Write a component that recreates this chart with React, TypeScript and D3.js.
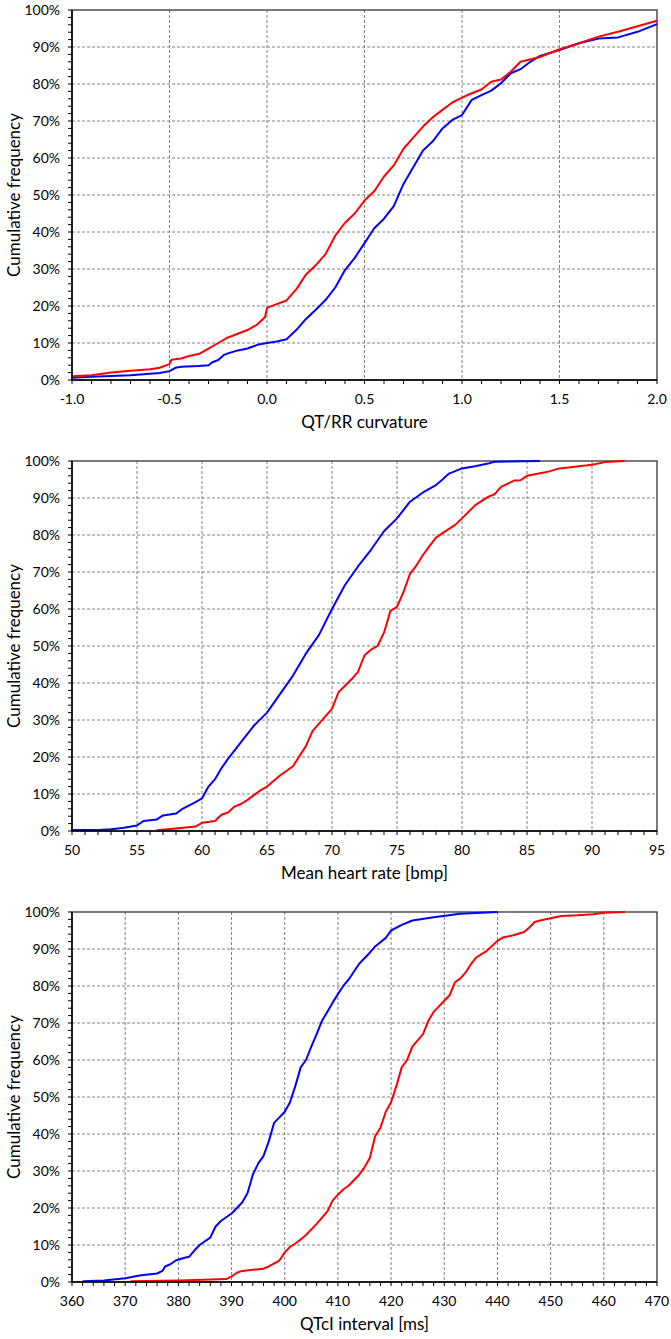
import { line, range, scaleLinear } from 'd3'

// QT/RR curvature (panel 1)
const curvatureBlueX = [-1.0, -0.9, -0.8, -0.7, -0.6, -0.55, -0.5, -0.47, -0.44, -0.35, -0.3, -0.28, -0.25, -0.22, -0.2, -0.15, -0.1, -0.05, 0.0, 0.05, 0.1, 0.15, 0.2, 0.25, 0.3, 0.35, 0.4, 0.45, 0.5, 0.55, 0.6, 0.65, 0.7, 0.75, 0.8, 0.85, 0.9, 0.95, 1.0, 1.05, 1.1, 1.15, 1.2, 1.25, 1.3, 1.35, 1.4, 1.5, 1.6, 1.7, 1.8, 1.9, 2.0]
const curvatureBlueY = [0.6, 0.9, 1.1, 1.3, 1.7, 1.9, 2.4, 3.3, 3.6, 3.8, 4.0, 4.8, 5.4, 6.8, 7.2, 8.0, 8.5, 9.5, 10.0, 10.4, 11.0, 13.5, 16.5, 19, 21.6, 25, 29.7, 33, 37, 41, 43.6, 47, 53, 57.5, 62, 64.5, 68, 70.3, 71.6, 75.7, 77, 78.2, 80.2, 82.9, 84, 86, 87.6, 89.2, 91, 92.3, 92.6, 94.1, 96.2]
const curvatureRedX = [-1.0, -0.9, -0.8, -0.7, -0.6, -0.55, -0.5, -0.49, -0.44, -0.4, -0.35, -0.3, -0.25, -0.2, -0.15, -0.1, -0.05, -0.01, 0.0, 0.05, 0.1, 0.15, 0.2, 0.25, 0.3, 0.35, 0.4, 0.45, 0.5, 0.55, 0.6, 0.65, 0.7, 0.75, 0.8, 0.85, 0.9, 0.95, 1.0, 1.05, 1.1, 1.15, 1.2, 1.25, 1.3, 1.4, 1.5, 1.6, 1.7, 1.8, 1.9, 2.0]
const curvatureRedY = [1.0, 1.3, 2.0, 2.5, 2.9, 3.3, 4.3, 5.5, 5.8, 6.5, 7.0, 8.5, 10.0, 11.5, 12.5, 13.5, 15.0, 17.0, 19.5, 20.5, 21.5, 24.5, 28.5, 31, 34, 39, 42.5, 45, 48.5, 51, 55, 58, 62.5, 65.5, 68.5, 71, 73, 75, 76.3, 77.5, 78.5, 80.6, 81.2, 83.3, 86, 87.3, 89.4, 91, 92.8, 94.1, 95.6, 97.1]

// Mean heart rate (panel 2)
const heartBlueX = [50, 52, 53, 54, 55, 55.5, 56.5, 57, 58, 58.5, 59.5, 60, 60.5, 61, 61.5, 62, 63, 64, 65, 66, 67, 68, 69, 70, 71, 72, 73, 74, 75, 76, 77, 78, 78.5, 79, 80, 81, 82, 82.5, 86]
const heartBlueY = [0.3, 0.3, 0.5, 0.9, 1.5, 2.7, 3.1, 4.2, 4.7, 6.0, 7.8, 8.8, 12, 14, 17, 19.5, 24, 28.5, 32, 37, 42, 48, 53, 60, 66.5, 71.5, 76, 81, 84.5, 89, 91.5, 93.5, 95, 96.6, 98, 98.6, 99.3, 99.8, 100]
const heartRedX = [56.5, 58, 59.5, 60, 61, 61.5, 62, 62.5, 63, 63.5, 64, 64.5, 65, 66, 67, 68, 68.5, 69, 70, 70.5, 71.5, 72, 72.5, 73, 73.5, 74, 74.5, 75, 75.5, 76, 76.5, 77, 77.5, 78, 78.5, 79.5, 80, 81, 82, 82.5, 83, 84, 84.5, 85, 86.5, 87.5, 89, 90, 91, 92.5]
const heartRedY = [0.2, 0.7, 1.2, 2.2, 2.7, 4.4, 5, 6.6, 7.3, 8.4, 9.7, 11, 12, 15, 17.5, 23, 27, 29, 33, 37.5, 41, 43, 47.5, 49, 50, 53.6, 59.5, 60.6, 64.6, 69.5, 71.8, 74.6, 77, 79.3, 80.5, 82.8, 84.5, 88, 90.3, 91, 93, 94.7, 94.8, 96, 97, 98, 98.6, 99, 99.7, 100]

// QTcI interval (panel 3)
const qtcBlueX = [362, 366, 370, 373, 376, 377, 377.5, 378.5, 379.5, 381, 382, 383, 384, 385, 386, 387, 388, 389, 390, 391, 392, 393, 394, 395, 396, 397, 398, 399, 400, 401, 402, 403, 404, 405, 406, 407, 408, 409, 410, 411, 412, 414, 416, 417, 419, 420, 422, 424, 428, 433, 440]
const qtcBlueY = [0.2, 0.4, 1.0, 1.8, 2.3, 3.0, 4.2, 4.8, 5.8, 6.5, 6.8, 8.5, 10, 11, 12, 15, 16.5, 17.5, 18.5, 20, 21.5, 24, 29, 32, 34, 38, 43, 44.5, 46, 48.6, 53, 58, 60, 63.6, 67, 70.6, 73, 75.5, 77.8, 80, 81.7, 86, 89, 90.7, 93, 95, 96.5, 97.7, 98.6, 99.5, 100]
const qtcRedX = [371, 380, 389, 390, 391, 392, 394, 396, 397, 399, 400, 401, 402, 403, 404, 406, 408, 409, 410, 411, 412, 414, 415, 416, 417, 418, 419, 420, 421, 422, 423, 424, 426, 427, 428, 429, 430, 431, 432, 433, 434, 435, 436, 437, 438, 440, 441, 443, 445, 446, 447, 448, 450, 452, 455, 458, 460, 464]
const qtcRedY = [0.2, 0.4, 0.8, 1.5, 2.5, 3.0, 3.3, 3.6, 4.2, 5.8, 8, 9.5, 10.4, 11.5, 12.7, 15.7, 19, 22, 23.6, 25, 26, 29, 31, 33.5, 39.4, 41.7, 46, 48.6, 53, 58, 60, 63.6, 67, 70.6, 73, 74.5, 76, 77.5, 81, 82, 83.6, 85.9, 87.7, 88.6, 89.5, 92.2, 93.1, 93.7, 94.6, 95.8, 97.3, 97.7, 98.3, 98.9, 99.1, 99.4, 99.8, 100]

const percentTicks = [0, 10, 20, 30, 40, 50, 60, 70, 80, 90, 100]
const curvatureTicks = [-1.0, -0.5, 0.0, 0.5, 1.0, 1.5, 2.0]
const heartTicks = [50, 55, 60, 65, 70, 75, 80, 85, 90, 95]
const qtcTicks = [360, 370, 380, 390, 400, 410, 420, 430, 440, 450, 460, 470]

const WIDTH = 671
const HEIGHT = 1339
const LEFT = 72
const RIGHT = 657
const PANEL_H = 370
const FONT = 'Lato, "Open Sans", sans-serif'
const BLUE = '#0000ff'
const RED = '#ff0000'

type Series = { xs: number[]; ys: number[]; color: string }

type PanelProps = {
  top: number
  ticks: number[]
  minorStep: number
  decimals: number
  title: string
  series: Series[]
}

function Panel({ top, ticks, minorStep, decimals, title, series }: PanelProps) {
  const x0 = ticks[0]
  const x1 = ticks[ticks.length - 1]
  const bottom = top + PANEL_H
  const x = scaleLinear().domain([x0, x1]).range([LEFT, RIGHT])
  const y = scaleLinear().domain([0, 100]).range([bottom, top])
  const minorX = range(x0, x1 + minorStep / 2, minorStep)
  const minorY = range(0, 101, 2)

  return (
    <g>
      {percentTicks.slice(1, -1).map((t) => (
        <line key={'gy' + t} x1={LEFT} x2={RIGHT} y1={y(t)} y2={y(t)} stroke="#808080" strokeWidth={1} strokeDasharray="3,2" />
      ))}
      {ticks.slice(1, -1).map((t) => (
        <line key={'gx' + t} x1={x(t)} x2={x(t)} y1={top} y2={bottom} stroke="#808080" strokeWidth={1} strokeDasharray="3,2" />
      ))}
      <rect x={LEFT} y={top} width={RIGHT - LEFT} height={PANEL_H} fill="none" stroke="#333" strokeWidth={1.3} />
      {minorY.map((t) => (
        <line key={'ty' + t} x1={LEFT - 4} x2={LEFT} y1={y(t)} y2={y(t)} stroke="#000" strokeWidth={1} />
      ))}
      {minorX.map((t) => (
        <line key={'tx' + t} x1={x(t)} x2={x(t)} y1={bottom} y2={bottom + 4} stroke="#000" strokeWidth={1} />
      ))}
      {series.map((s) => {
        const path = line<number>()
          .x((_, i) => x(s.xs[i]))
          .y((v) => y(v))
        return <path key={s.color} d={path(s.ys) ?? ''} fill="none" stroke={s.color} strokeWidth={2} strokeLinejoin="round" />
      })}
      <line x1={LEFT} x2={LEFT} y1={top} y2={bottom} stroke="#000" strokeWidth={1.5} />
      <line x1={LEFT} x2={RIGHT} y1={bottom} y2={bottom} stroke="#000" strokeWidth={1.5} />
      {percentTicks.map((t) => (
        <text key={'ly' + t} x={LEFT - 12} y={y(t) + 5} textAnchor="end" fontSize={14} fontFamily={FONT} fill="#000">
          {t}%
        </text>
      ))}
      {ticks.map((t) => (
        <text key={'lx' + t} x={x(t)} y={bottom + 24} textAnchor="middle" fontSize={14} fontFamily={FONT} fill="#000">
          {t.toFixed(decimals)}
        </text>
      ))}
      <text x={(LEFT + RIGHT) / 2} y={bottom + 48} textAnchor="middle" fontSize={17} fontFamily={FONT} fill="#000">
        {title}
      </text>
      <text
        transform={`translate(20, ${(top + bottom) / 2}) rotate(-90)`}
        textAnchor="middle"
        fontSize={17}
        fontFamily={FONT}
        fill="#000"
      >
        Cumulative frequency
      </text>
    </g>
  )
}

export default function App() {
  return (
    <div style={{ position: 'absolute', left: 0, top: 0 }}>
      <svg width={WIDTH} height={HEIGHT} viewBox={`0 0 ${WIDTH} ${HEIGHT}`} style={{ display: 'block', background: '#fff' }}>
        <Panel
          top={10}
          ticks={curvatureTicks}
          minorStep={0.1}
          decimals={1}
          title="QT/RR curvature"
          series={[
            { xs: curvatureBlueX, ys: curvatureBlueY, color: BLUE },
            { xs: curvatureRedX, ys: curvatureRedY, color: RED },
          ]}
        />
        <Panel
          top={461}
          ticks={heartTicks}
          minorStep={1}
          decimals={0}
          title="Mean heart rate [bmp]"
          series={[
            { xs: heartBlueX, ys: heartBlueY, color: BLUE },
            { xs: heartRedX, ys: heartRedY, color: RED },
          ]}
        />
        <Panel
          top={912}
          ticks={qtcTicks}
          minorStep={2}
          decimals={0}
          title="QTcI interval [ms]"
          series={[
            { xs: qtcBlueX, ys: qtcBlueY, color: BLUE },
            { xs: qtcRedX, ys: qtcRedY, color: RED },
          ]}
        />
      </svg>
    </div>
  )
}
